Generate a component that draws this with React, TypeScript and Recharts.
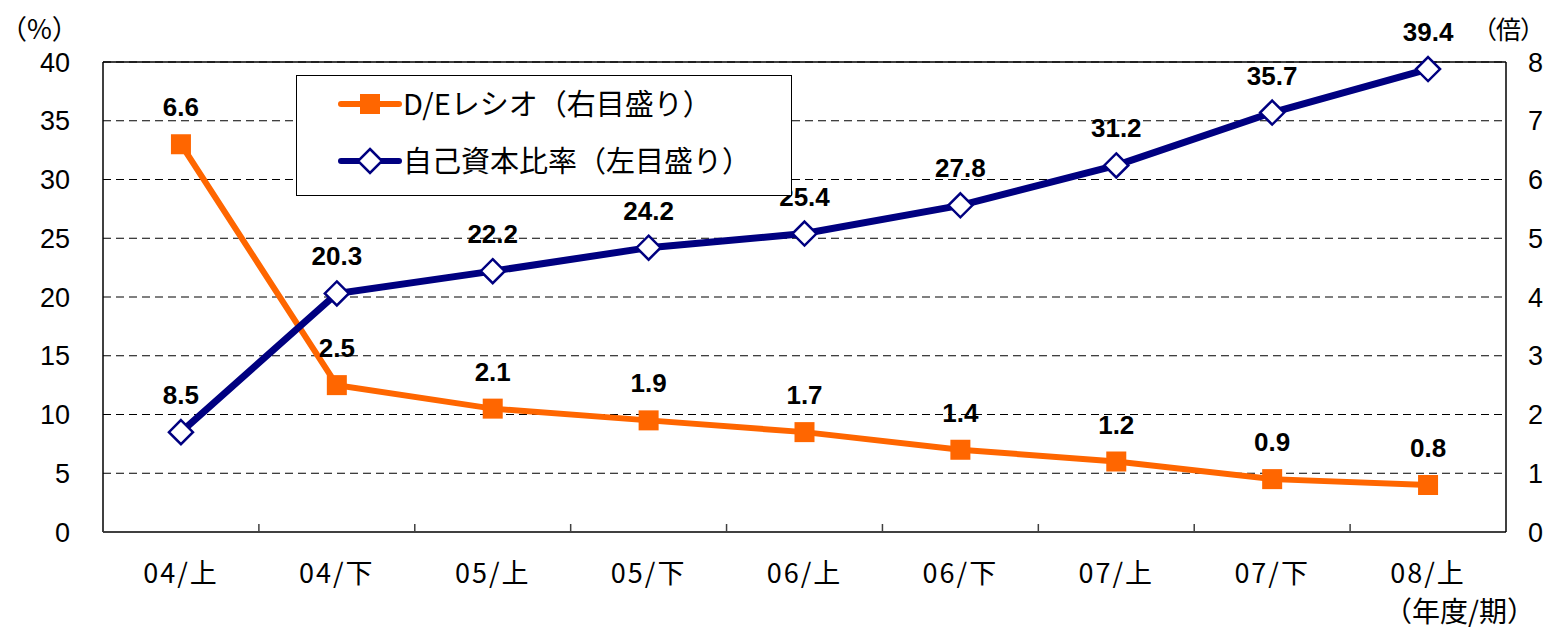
import React from 'react';
import { LineChart, Line, XAxis, YAxis, CartesianGrid, ReferenceLine, LabelList } from 'recharts';

const categories = ['04/上', '04/下', '05/上', '05/下', '06/上', '06/下', '07/上', '07/下', '08/上'];
const deRatio = [6.6, 2.5, 2.1, 1.9, 1.7, 1.4, 1.2, 0.9, 0.8];
const equityRatio = [8.5, 20.3, 22.2, 24.2, 25.4, 27.8, 31.2, 35.7, 39.4];
const leftTicks = [0, 5, 10, 15, 20, 25, 30, 35, 40];
const rightTicks = [0, 1, 2, 3, 4, 5, 6, 7, 8];
const deName = 'D/Eレシオ（右目盛り）';
const equityName = '自己資本比率（左目盛り）';
const leftUnit = '（%）';
const rightUnit = '（倍）';
const xUnit = '（年度/期）';

const data = categories.map((c, i) => ({ period: c, de: deRatio[i], equity: equityRatio[i] }));

const ORANGE = '#FF6600';
const NAVY = '#000080';
const FONT = '"Liberation Sans", Arial, "Noto Sans CJK JP", sans-serif';
const JFONT = '"Noto Sans CJK JP", sans-serif';

const XTick = (props: any) => {
  const { x, y, payload } = props;
  const off = payload.offset || 0;
  const axisY = y - 30;
  return (
    <g>
      <line x1={x - off} x2={x - off} y1={axisY} y2={axisY - 8} stroke="#404040" strokeWidth={1.5} />
      <text x={x} y={axisY + 51} textAnchor="middle" fontSize={27} letterSpacing={2} fill="#000" fontFamily={JFONT}>
        {payload.value}
      </text>
    </g>
  );
};

const SquareDot = (p: any) => (
  <rect key={`s${p.index}`} x={p.cx - 10} y={p.cy - 10} width={20} height={20} fill={ORANGE} />
);

const DiamondDot = (p: any) => (
  <path
    key={`d${p.index}`}
    d={`M${p.cx},${p.cy - 12}L${p.cx + 12},${p.cy}L${p.cx},${p.cy + 12}L${p.cx - 12},${p.cy}Z`}
    fill="#fff"
    stroke={NAVY}
    strokeWidth={2.5}
  />
);

const ValueLabel = (p: any) => (
  <text x={p.x} y={p.y - 28} textAnchor="middle" fontSize={26} fontWeight="bold" fill="#000" fontFamily={FONT}>
    {p.value}
  </text>
);

const LegendBox = () => (
  <div
    style={{
      position: 'absolute',
      left: 296,
      top: 75,
      width: 496,
      height: 121,
      background: '#fff',
      border: '1px solid #000',
      boxSizing: 'border-box',
    }}
  >
    <svg width={494} height={119} style={{ position: 'absolute', left: 0, top: 0 }}>
      <line x1={44} x2={102} y1={28} y2={28} stroke={ORANGE} strokeWidth={6} strokeLinecap="round" />
      <rect x={63} y={18} width={20} height={20} fill={ORANGE} />
      <line x1={44} x2={102} y1={85} y2={85} stroke={NAVY} strokeWidth={6} strokeLinecap="round" />
      <path d="M73,73L85,85L73,97L61,85Z" fill="#fff" stroke={NAVY} strokeWidth={2.5} />
      <text x={106} y={39} fontSize={29} fontFamily={JFONT}>{deName}</text>
      <text x={106} y={96} fontSize={29} fontFamily={JFONT}>{equityName}</text>
    </svg>
  </div>
);

export default function App() {
  return (
    <div style={{ position: 'absolute', left: 0, top: 0, width: 1547, height: 630, background: '#fff', overflow: 'hidden' }}>
      <LineChart width={1547} height={630} data={data} margin={{ top: 62, right: 0, bottom: 0, left: 0 }}>
        <CartesianGrid yAxisId="left" vertical={false} stroke="#000" strokeDasharray="8 5" strokeWidth={1} />
        <XAxis
          dataKey="period"
          scale="band"
          height={98}
          tickSize={0}
          tickMargin={30}
          tick={<XTick />}
          axisLine={{ stroke: '#404040', strokeWidth: 2 }}
          tickLine={false}
          interval={0}
        />
        <YAxis
          yAxisId="left"
          orientation="left"
          width={103}
          domain={[0, 40]}
          ticks={leftTicks}
          tickSize={0}
          tickMargin={33}
          tickLine={false}
          axisLine={{ stroke: '#000', strokeWidth: 1.5 }}
          tick={{ fontSize: 27, fill: '#000', fontFamily: FONT }}
        />
        <YAxis
          yAxisId="right"
          orientation="right"
          width={41}
          domain={[0, 8]}
          ticks={rightTicks}
          tickSize={0}
          tickMargin={22}
          tickLine={false}
          axisLine={{ stroke: '#000', strokeWidth: 1.5 }}
          tick={{ fontSize: 27, fill: '#000', fontFamily: FONT, textAnchor: 'start' }}
        />
        <ReferenceLine yAxisId="left" y={40} stroke="#000" strokeWidth={1.5} />
        <Line
          yAxisId="right"
          dataKey="de"
          stroke={ORANGE}
          strokeWidth={6}
          dot={SquareDot}
          activeDot={false}
          isAnimationActive={false}
        >
          <LabelList dataKey="de" content={ValueLabel} />
        </Line>
        <Line
          yAxisId="left"
          dataKey="equity"
          stroke={NAVY}
          strokeWidth={7}
          dot={DiamondDot}
          activeDot={false}
          isAnimationActive={false}
        >
          <LabelList dataKey="equity" content={ValueLabel} />
        </Line>
      </LineChart>
      <LegendBox />
      <div style={{ position: 'absolute', left: 0, top: 9, fontSize: 27, lineHeight: '38px', fontFamily: JFONT, whiteSpace: 'nowrap' }}>{leftUnit}</div>
      <div style={{ position: 'absolute', left: 1472, top: 10, fontSize: 25, lineHeight: '36px', letterSpacing: -1, fontFamily: JFONT, whiteSpace: 'nowrap' }}>{rightUnit}</div>
      <div style={{ position: 'absolute', left: 1384, top: 590, fontSize: 28, lineHeight: '40px', fontFamily: JFONT, whiteSpace: 'nowrap' }}>{xUnit}</div>
    </div>
  );
}
